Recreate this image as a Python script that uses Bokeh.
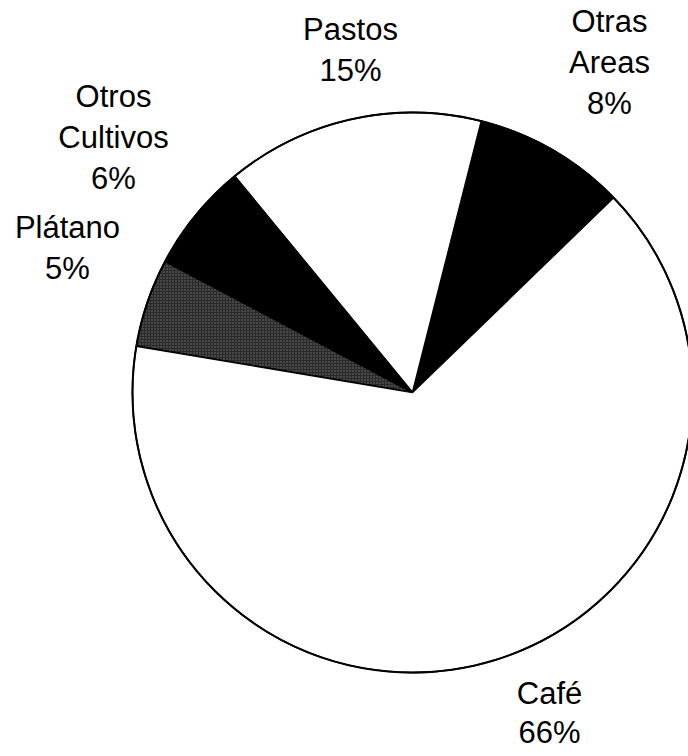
from bokeh.plotting import figure
from bokeh.models import Range1d, ColumnDataSource
from bokeh.embed import file_html
from bokeh.resources import INLINE
from bokeh.core.properties import value
import numpy as np

# ---- data (counter-clockwise order, starting at the Café/Otras Areas edge) ----
categories = ["Otras Areas", "Pastos", "Otros Cultivos", "Plátano", "Café"]
shares = [8.8, 14.9, 6.3, 5.1, 64.9]          # slice sizes (%)
labels_pct = ["8%", "15%", "6%", "5%", "66%"]  # printed labels

# ---- styling / layout ----
fills = ["#000000", "#ffffff", "#000000", "#2a2a2a", "#ffffff"]
hatches = [" ", " ", " ", ".", " "]
START_DEG = 44.1
W, H = 688, 756
CX, CY, R = 412, H - 392, 280
# anchor (x, baseline y of first line, from top-left) for each label
label_pos = [(609, 32), (350, 40), (113, 107), (67, 238), (549, 704)]
line_heights = [41, 41, 41, 41, 39]
TEXT_SHIFT = 11   # compensation of the rendered baseline offset
FONT = "Liberation Sans"
FS = "31px"

p = figure(width=W, height=H, output_backend="svg", toolbar_location=None,
           x_range=Range1d(0, W), y_range=Range1d(0, H),
           min_border=0, outline_line_color=None)
p.axis.visible = False
p.grid.visible = False
p.background_fill_color = "white"
p.border_fill_color = "white"

vals = np.array(shares, dtype=float)
ang = vals / vals.sum() * 360.0
starts = START_DEG + np.concatenate([[0], np.cumsum(ang)[:-1]])
ends = starts + ang

src = ColumnDataSource(dict(start=np.deg2rad(starts), end=np.deg2rad(ends),
                            color=fills, hatch=hatches, cat=categories))
p.wedge(x=CX, y=CY, radius=R, start_angle="start", end_angle="end",
        fill_color="color", hatch_pattern="hatch", hatch_color="white",
        hatch_alpha=0.35, hatch_scale=3, hatch_weight=1,
        line_color="black", line_width=1.6, source=src)
p.circle(x=CX, y=CY, radius=R, fill_color=None, line_color="black", line_width=2)

tx, ty, tt = [], [], []
for cat, pct, (lx, ly), lh in zip(categories, labels_pct, label_pos, line_heights):
    lines = cat.split(" ") + [pct]
    for i, ln in enumerate(lines):
        tx.append(lx)
        ty.append(H - (ly + i * lh - TEXT_SHIFT))
        tt.append(ln)

p.text(x=tx, y=ty, text=tt, text_font=value(FONT), text_font_size=FS,
       text_align="center", text_baseline="alphabetic", text_color="black")

open("out.html", "w").write(file_html(p, INLINE))
